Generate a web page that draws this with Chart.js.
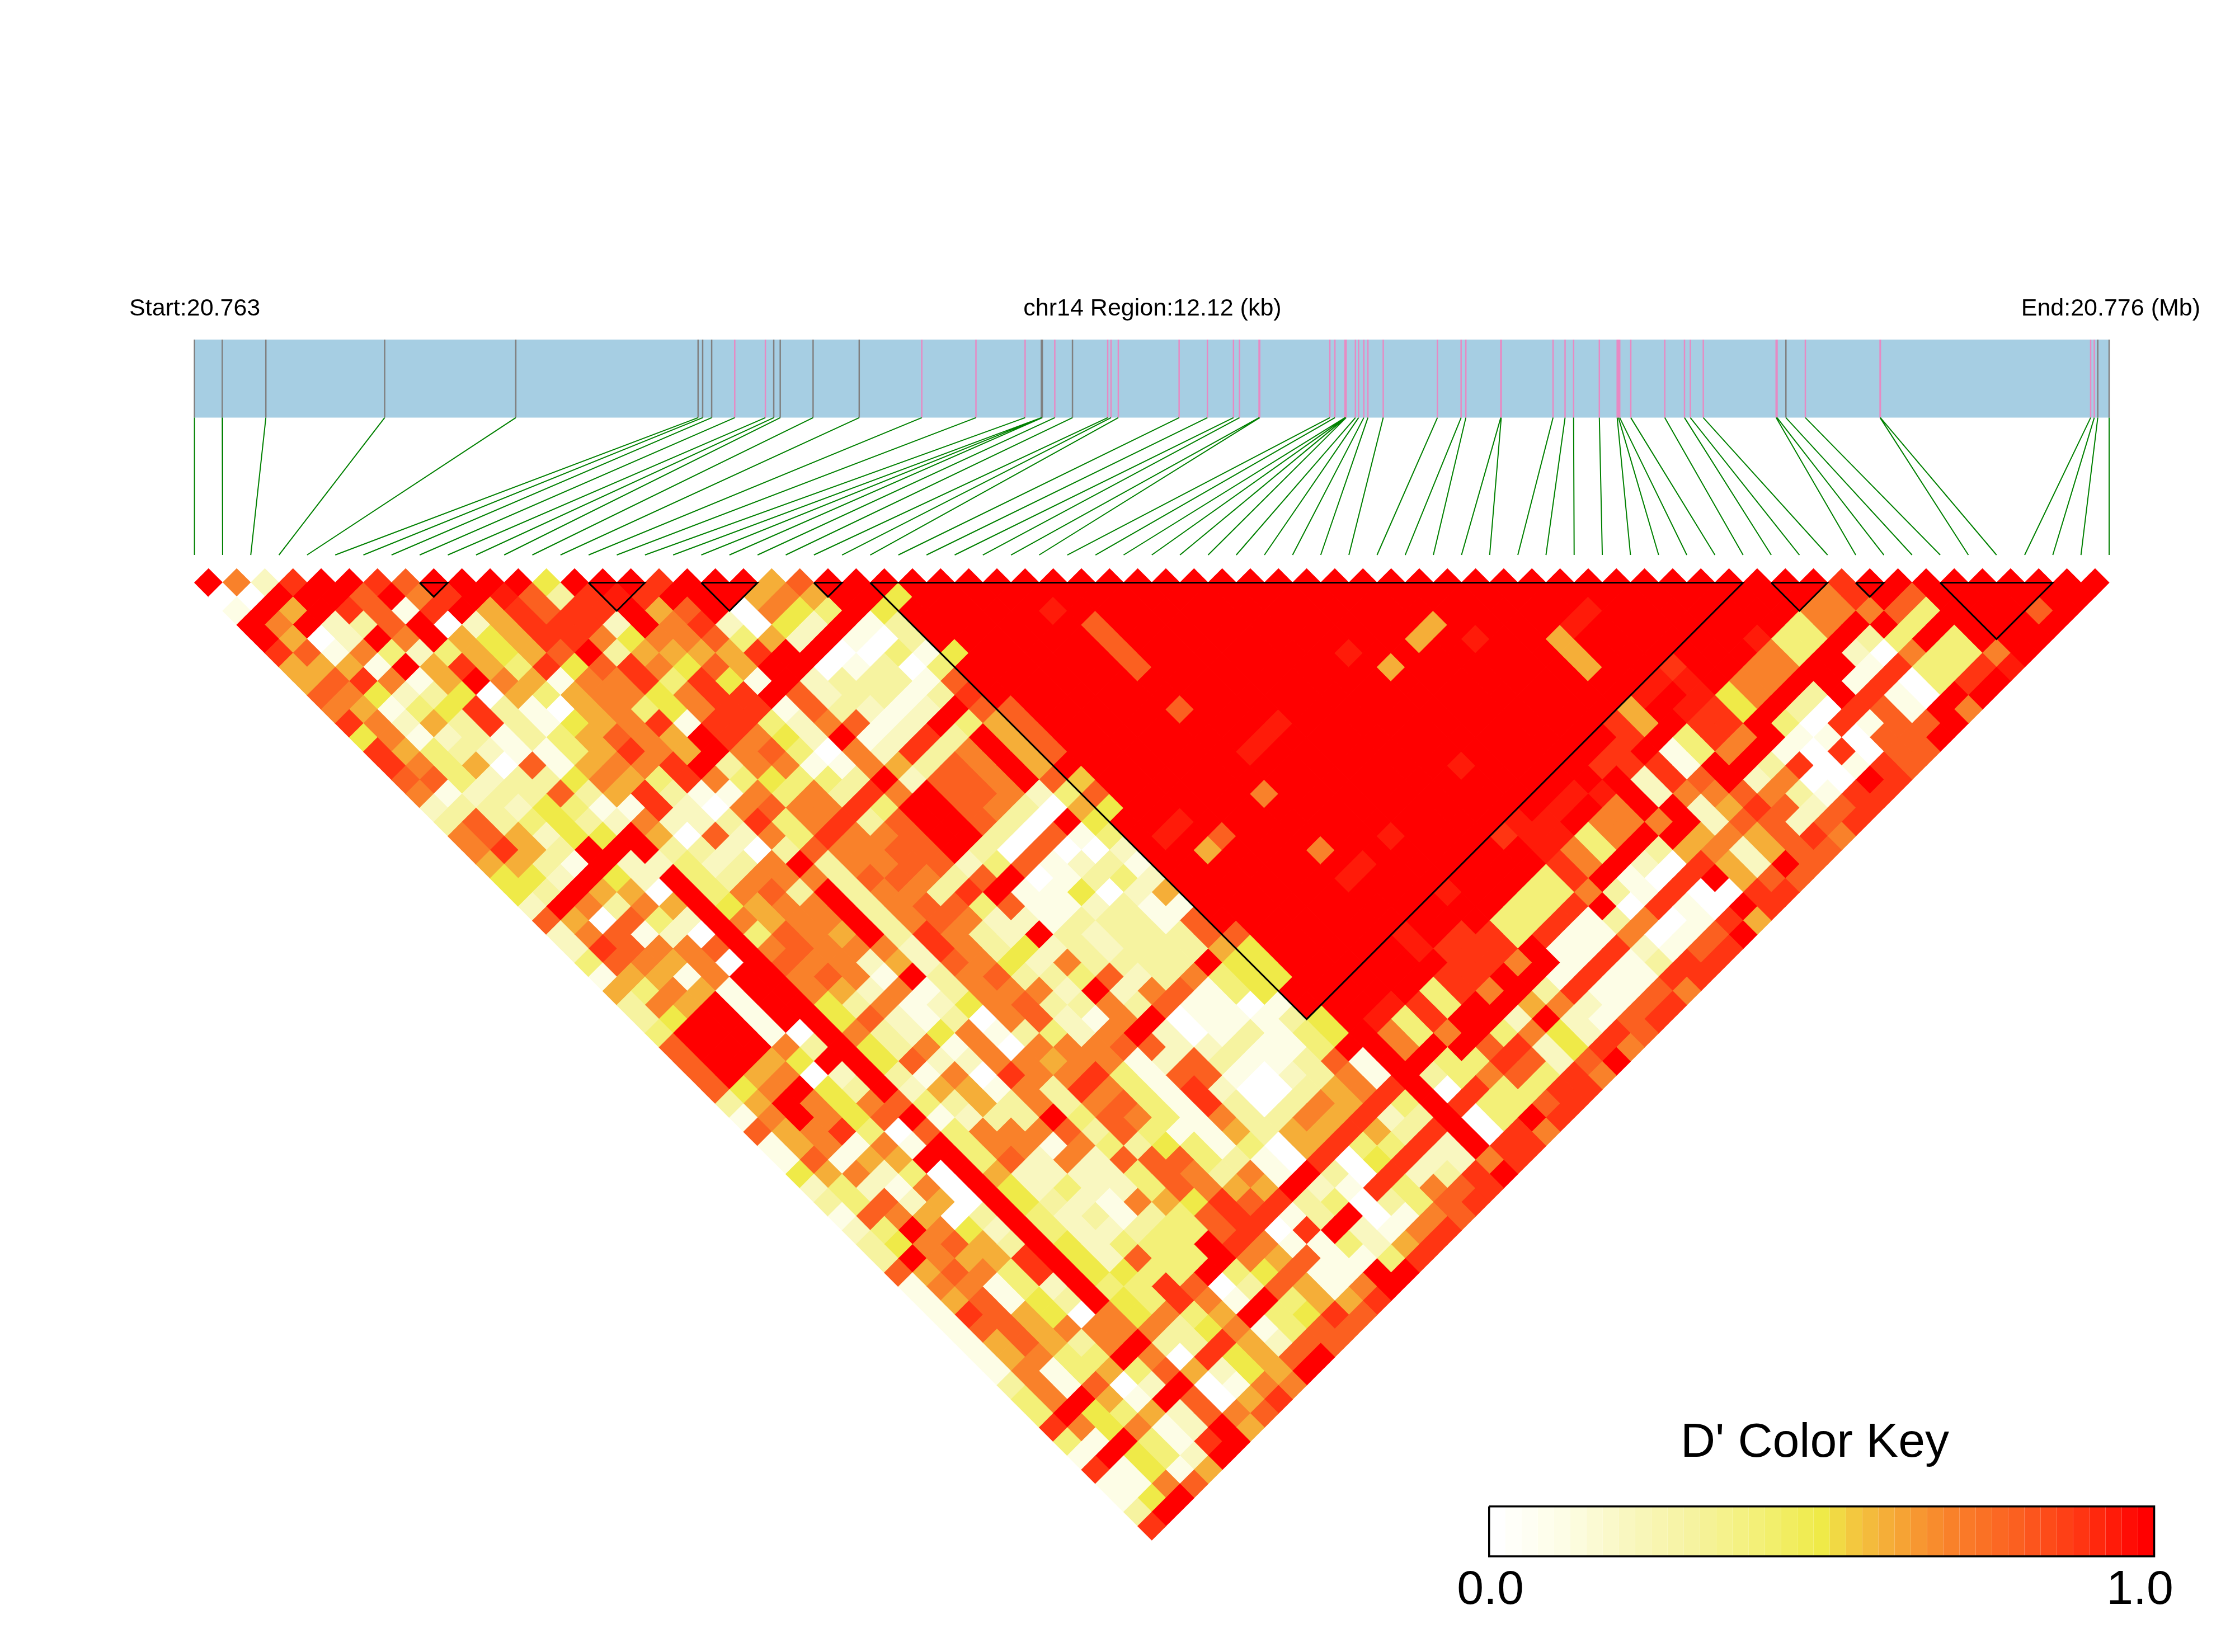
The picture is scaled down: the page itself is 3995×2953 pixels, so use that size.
<!DOCTYPE html>
<html>
<head>
<meta charset="utf-8">
<title>LD heatmap chr14</title>
<script src="https://cdn.jsdelivr.net/npm/chart.js@4"></script>
<style>
html, body { margin: 0; padding: 0; background: #ffffff; }
canvas { display: block; }
</style>
</head>
<body>
<canvas id="ldChart" width="3995" height="2953"></canvas>
<script>
// SNP positions along the region, kb from the start
const snpKb = [0, 0.176, 0.452, 1.204, 2.034, 3.188, 3.217, 3.274, 3.42, 3.614, 3.667, 3.708, 3.916, 4.208, 4.604, 4.947, 5.258,
    5.361, 5.364, 5.367, 5.446, 5.558, 5.781, 5.802, 5.848, 6.233, 6.412, 6.577, 6.615, 6.739, 6.743, 7.187, 7.219, 7.283, 7.286,
    7.288, 7.29, 7.349, 7.369, 7.402, 7.428, 7.525, 7.868, 8.018, 8.048, 8.269, 8.272, 8.6, 8.676, 8.73, 8.893, 9.006, 9.014,
    9.022, 9.092, 9.307, 9.432, 9.469, 9.551, 10.012, 10.018, 10.074, 10.197, 10.67, 10.672, 12.003, 12.026, 12.048, 12.12];
const regionKb = 12.12;

// SNPs drawn grey in the gene bar, the rest are pink
const greySnps = [0, 1, 2, 3, 4, 5, 6, 7, 10, 11, 12, 13, 17, 18, 19, 21, 61, 67, 68];

// haplotype blocks, first and last SNP
const blocks = [[8, 9], [14, 16], [18, 20], [22, 23], [24, 55], [56, 58], [59, 60], [62, 66]];

// D' in tenths, a = 1.0, b = 0.95. One string per distance between SNPs (1, 2, 3...).
// Left part: first SNP 0..23, in order of first SNP
const leftRows = [
    "a729aa98aaaa5aaa9aaa68aa", "00aaa8a79ab839b9aaa676aa", "1a6a9819a69899a68a0754a5", "a7a238a0269992a792052a13",
    "a602a7a6569975778462a103", "98174246568a366669aa0041", "6661a696495897586aa01304", "689716a7617794951a233318",
    "875235064677579 9a8233139", "7614593106745799183212a8", "972639315679199427812a46", "571231346876a9752a1293a6",
    "964321146976a784072937a6", "97460816779a3771176387a6", "88423357649745443a2887a8", "712338369311747397a88724",
    "23325411920787794aa87306", "38345327223947938aa830a5", "786255a6082749778aa30814", "7963aaa3320387788a308002",
    "6631a224237a377882481231", "552a52a43777388738a01342", "53a660a4783a37739a115026", "2a7376a5677a378848112311",
    "860842a7677a378722133318", "278120a4876a39732a323338", "298778a78777297352323336", "487670a877262875273333a5",
    "16617aa7871a378334823745", "64761aa7627137772a278145", "376a1aa53712578337381101", "35aa1aa58213078217a01113",
    "4aaa10a7325713427a201314", "8aaa73a53717077788223114", "8aa65aa58227767712831138", "8a6702a31709779418810237",
    "857a53a26617397419200367", "36a757843637378419303769", "17a758a1233a487417337692", "867940847778384116366963",
    "167171a47717435414069449", "18166aa48272888431090592", "567240a62222487371a30923", "242170a5242248766a219478",
    "348260a53217659893403489", "187603a42313489913a0178", "24a752a4223448909a2179", "357863a52444a97114269",
    "3a7669a52844a7681149", "868749a5544a45811aa", "177142a4498038617a", "168153a54971a4669",
    "19865075746a4598", "188677773571488", "168637a3396288", "16744a709568a",
    "17146486256a", "371802a0177", "47a61a8069", "4a5462878",
    "975712a6", "41a419a", "1a542a", "91516",
    "1178", "15a", "3a", "9"
];
// Right part: last SNP 56..68, first SNP 24 or later
const rightRows = [
    "aaa9aaaaaaaaa", "aaa79a8aaaaaa", "aaa77784aaa8a", "aaa47aa4aaaaa", "aab44a34a4aaa", "aaa74a207447a",
    "9aa77aa19449b", "bba77aa19049a", "bab57a3a910aa", "6ab95a30981a7", "96a99a409188a", "a9a497a11088a",
    "a9a147a109088", "a9991aa390198", "aaa298a2700a9", "abba277873199", "aba7aa2698289", "bba777a288289",
    "9bb47aa676897", "aab74a3672688", "aaa97a20962a8", "aaa49a109a688", "baa4473190099", "aaa449a0910a9",
    "aaa4491370196", "ba9949117018a", "ab999a1192189", "aaa997a191399", "aaa99aa191199", "aaa497a391187",
    "aab94aa672189", "5ab49aa2a2189", "5a747a475298", "aa7aa892597", "1aa449828a", "1a3478497",
    "9a094499", "4a94489", "3a04a9", "9a097", "2a99", "279", "9a", "9"
];
// Inside the big block everything is 1.0 except these [first SNP, last SNP, D']
const blockExceptions = [
    [24, 26, 0.5], [24, 30, 0.5], [24, 34, 0.8], [24, 35, 0.8], [24, 36, 0.8], [24, 37, 0.8], [24, 39, 0.55], [24, 40, 0.8],
    [24, 41, 0.5], [24, 50, 0.8], [24, 51, 0.5], [24, 52, 0.5], [24, 53, 0.5], [29, 32, 0.95], [30, 34, 0.8], [30, 35, 0.8],
    [30, 36, 0.8], [30, 37, 0.8], [41, 46, 0.6], [42, 46, 0.6], [39, 46, 0.6], [38, 44, 0.95], [46, 51, 0.6], [46, 52, 0.6],
    [46, 53, 0.6], [47, 51, 0.95], [48, 51, 0.95], [43, 48, 0.95], [30, 40, 0.8], [33, 44, 0.95], [31, 44, 0.95], [32, 44, 0.95],
    [30, 46, 0.7], [26, 44, 0.95], [25, 44, 0.95], [26, 46, 0.6], [27, 46, 0.8], [30, 50, 0.7], [30, 52, 0.95], [31, 52, 0.95],
    [33, 52, 0.95], [38, 52, 0.95]
];
// Steps of the colour key
const keyLevels = [0, 0.025, 0.05, 0.075, 0.1, 0.125, 0.15, 0.175, 0.2, 0.225, 0.25, 0.275, 0.3, 0.325, 0.35, 0.375, 0.4, 0.425,
    0.45, 0.475, 0.5, 0.525, 0.55, 0.575, 0.6, 0.625, 0.65, 0.675, 0.7, 0.725, 0.75, 0.775, 0.8, 0.825, 0.85, 0.875, 0.9, 0.925,
    0.95, 0.975, 1];

const colorStops = [
    [0, [255, 255, 255]], [0.1, [253, 253, 230]], [0.2, [249, 247, 192]], [0.3, [246, 243, 160]], [0.4, [243, 240, 120]],
    [0.5, [239, 234, 72]], [0.55, [243, 200, 63]], [0.6, [245, 174, 56]], [0.7, [249, 129, 42]], [0.8, [251, 96, 32]],
    [0.9, [255, 53, 18]], [1, [255, 0, 0]]
];

function ldColor(v) {
    for (let k = 1; k < colorStops.length; k++) {
        if (v <= colorStops[k][0]) {
            const [v0, c0] = colorStops[k - 1];
            const [v1, c1] = colorStops[k];
            const t = (v - v0) / (v1 - v0);
            return `rgb(${c0.map((c, n) => Math.round(c + (c1[n] - c) * t)).join(',')})`;
        }
    }
    return 'rgb(255,0,0)';
}

function codeToValue(ch) {
    if (ch === 'a') return 1;
    if (ch === 'b') return 0.95;
    return Number(ch) / 10;
}

// Cells: x is the middle of the two SNPs (in SNP slots), y is the distance between them
const cells = [];
function addCell(i, j, v) {
    cells.push({ x: (i + j) / 2, y: j - i, v: v });
}
leftRows.forEach((row, r) => {
    const d = r + 1;
    row.replace(/\s/g, '').split('').forEach((ch, i) => addCell(i, i + d, codeToValue(ch)));
});
rightRows.forEach((row, r) => {
    const d = r + 1;
    const first = Math.max(24, 56 - d);
    row.split('').forEach((ch, k) => addCell(first + k, first + k + d, codeToValue(ch)));
});
for (let i = 24; i <= 55; i++) {
    for (let j = i + 1; j <= 55; j++) {
        const found = blockExceptions.find(e => e[0] === i && e[1] === j);
        addCell(i, j, found ? found[2] : 1);
    }
}

// Layout on the page, in the units of the two scales
const bandTop = -16.27, bandBottom = -10.72, linkBottom = -0.97;
const keyLeft = 45.98, keyRight = 69.6, keyTop = 66.6, keyBottom = 70.15, keyMiddle = 68.37;
const kbToSlot = kb => kb / regionKb * 68;

const greyTicks = [], pinkTicks = [], links = [];
snpKb.forEach((kb, i) => {
    const x = kbToSlot(kb);
    const target = greySnps.includes(i) ? greyTicks : pinkTicks;
    target.push({ x: x, y: bandTop }, { x: x, y: bandBottom }, { x: x, y: null });
    links.push({ x: x, y: bandBottom }, { x: i, y: linkBottom }, { x: i, y: null });
});

const blockLines = [];
blocks.forEach(([a, b]) => {
    blockLines.push({ x: a, y: 1 }, { x: b, y: 1 }, { x: (a + b) / 2, y: 1 + b - a }, { x: a, y: 1 }, { x: a, y: null });
});

const keyStrip = [];
for (let k = 0; k <= keyLevels.length; k++) {
    keyStrip.push({ x: keyLeft + (keyRight - keyLeft) * k / keyLevels.length, y: keyMiddle });
}

const labels = [
    { text: 'Start:20.763', x: 231, y: 564, size: 43, align: 'left' },
    { text: 'chr14 Region:12.12 (kb)', x: 2060, y: 564, size: 43, align: 'center' },
    { text: 'End:20.776 (Mb)', x: 3933, y: 564, size: 43, align: 'right' },
    { text: "D' Color Key", x: 3244, y: 2604, size: 86, align: 'center' },
    { text: '0.0', x: 2664, y: 2867, size: 86, align: 'center' },
    { text: '1.0', x: 3825, y: 2867, size: 86, align: 'center' }
];

const labelPlugin = {
    id: 'pageLabels',
    afterDatasetsDraw(chart) {
        const ctx = chart.ctx;
        ctx.save();
        ctx.fillStyle = '#000000';
        ctx.textBaseline = 'alphabetic';
        labels.forEach(l => {
            ctx.font = `${l.size}px "Liberation Sans", Arial, sans-serif`;
            ctx.textAlign = l.align;
            ctx.fillText(l.text, l.x, l.y);
        });
        ctx.restore();
    }
};

function lineSet(data, color, width) {
    return {
        data: data, showLine: true, spanGaps: false, borderColor: color, borderWidth: width,
        pointRadius: 0, pointHoverRadius: 0, fill: false, tension: 0, borderCapStyle: 'butt', borderJoinStyle: 'miter'
    };
}

const keyStripSet = lineSet(keyStrip, '#ffffff', 90);
keyStripSet.segment = { borderColor: c => ldColor(keyLevels[c.p0DataIndex]) };

// Chart.js paints the first dataset last, so the list runs from top layer to bottom layer
new Chart(document.getElementById('ldChart').getContext('2d'), {
    type: 'scatter',
    data: {
        datasets: [
            lineSet([{ x: keyLeft, y: keyTop }, { x: keyRight, y: keyTop }, { x: keyRight, y: keyBottom }, { x: keyLeft, y: keyBottom }, { x: keyLeft, y: keyTop }], '#000000', 3.5),
            keyStripSet,
            lineSet(blockLines, '#000000', 3),
            {
                data: cells,
                pointStyle: 'rectRot',
                pointRadius: 25.8,
                pointHoverRadius: 25.8,
                pointBorderWidth: 0,
                pointBackgroundColor: cells.map(c => ldColor(c.v))
            },
            lineSet(links, '#008000', 2),
            lineSet(greyTicks, '#808080', 2.5),
            lineSet(pinkTicks, '#e78ac3', 2.5),
            lineSet([{ x: kbToSlot(0), y: (bandTop + bandBottom) / 2 }, { x: kbToSlot(regionKb), y: (bandTop + bandBottom) / 2 }], '#a6cee3', 139.7)
        ]
    },
    options: {
        responsive: false,
        animation: false,
        devicePixelRatio: 1,
        layout: { padding: 0, autoPadding: false },
        plugins: { legend: { display: false }, tooltip: { enabled: false } },
        events: [],
        scales: {
            x: { type: 'linear', min: -6.906, max: 72.47, display: false },
            y: { type: 'linear', min: -40.383, max: 76.94, reverse: true, display: false }
        }
    },
    plugins: [labelPlugin]
});
</script>
</body>
</html>
